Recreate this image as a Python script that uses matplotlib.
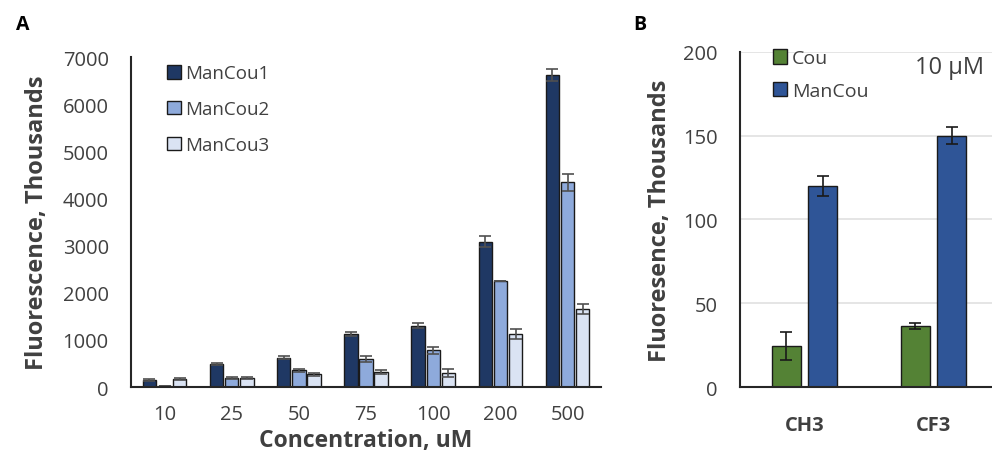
import matplotlib.pyplot as plt
import numpy as np

plt.rcParams['font.family'] = ['Open Sans', 'DejaVu Sans']

# panel A data (thousands)
conc = ['10', '25', '50', '75', '100', '200', '500']
mancou1 = [150, 490, 620, 1130, 1300, 3090, 6630]
mancou2 = [30, 190, 360, 600, 780, 2260, 4350]
mancou3 = [170, 190, 270, 320, 300, 1130, 1660]
err1 = [20, 30, 30, 40, 50, 110, 130]
err2 = [0, 20, 30, 60, 70, 0, 180]
err3 = [20, 20, 30, 40, 80, 110, 110]

# panel B data
groups = ['CH3', 'CF3']
cou = [24.5, 36.5]
mancou = [120, 150]
cou_err = [8.5, 2]
mancou_err = [6, 5]

text_col = '#404040'

fig = plt.figure(figsize=(9.92, 4.56), dpi=100)

# ---- panel A ----
axA = fig.add_axes([0.132, 0.149, 0.474, 0.723])
x = np.arange(len(conc))
w = 0.2
series = [(mancou1, err1, '#1f3864', 'ManCou1'),
          (mancou2, err2, '#8eaadb', 'ManCou2'),
          (mancou3, err3, '#dae3f3', 'ManCou3')]
for i, (vals, err, col, lab) in enumerate(series):
    axA.bar(x + (i - 1) * 0.225, vals, w, color=col, edgecolor='#1a1a1a',
            linewidth=1, label=lab, yerr=err, capsize=4,
            error_kw=dict(ecolor='#505050', elinewidth=1.2, capthick=1.2))
axA.set_xlim(-0.5, len(conc) - 0.5)
axA.set_ylim(0, 7000)
axA.set_yticks(range(0, 7001, 1000))
axA.set_xticks(x)
axA.set_xticklabels(conc)
axA.tick_params(length=0, labelsize=14.5, colors=text_col, pad=16)
axA.tick_params(axis='x', pad=12)
for s in ['top', 'right']:
    axA.spines[s].set_visible(False)
for s in ['left', 'bottom']:
    axA.spines[s].set_color('#262626')
    axA.spines[s].set_linewidth(1.5)
axA.set_ylabel('Fluorescence, Thousands', fontsize=17, fontweight='bold',
               color=text_col, labelpad=10)
axA.set_xlabel('Concentration, uM', fontsize=16.5, fontweight='bold',
               color=text_col, labelpad=3)
axA.legend(loc='upper left', bbox_to_anchor=(0.04, 1.03), frameon=False,
           fontsize=13.5, labelcolor=text_col, handlelength=0.75, handleheight=0.75,
           handletextpad=0.25, labelspacing=0.95)
fig.text(0.016, 0.945, 'A', fontsize=14, fontweight='bold', va='center')

# ---- panel B ----
axB = fig.add_axes([0.746, 0.149, 0.254, 0.735])
xb = np.arange(len(groups))
wb = 0.22
axB.bar(xb - 0.14, cou, wb, color='#548235', edgecolor='#1a1a1a', linewidth=1,
        label='Cou', yerr=cou_err, capsize=4,
        error_kw=dict(ecolor='#1a1a1a', elinewidth=1.2, capthick=1.2))
axB.bar(xb + 0.14, mancou, wb, color='#2f5597', edgecolor='#1a1a1a', linewidth=1,
        label='ManCou', yerr=mancou_err, capsize=4,
        error_kw=dict(ecolor='#1a1a1a', elinewidth=1.2, capthick=1.2))
axB.set_xlim(-0.5, 1.453)
axB.set_ylim(0, 200)
axB.set_yticks(range(0, 201, 50))
axB.set_xticks(xb)
axB.set_xticklabels(groups, fontweight='bold', fontsize=15)
axB.yaxis.grid(True, color='#e0e0e0', linewidth=1.2)
axB.set_axisbelow(True)
axB.tick_params(length=0, labelsize=14.5, colors=text_col, pad=16)
axB.tick_params(axis='x', pad=20)
for s in ['top', 'right']:
    axB.spines[s].set_visible(False)
for s in ['left', 'bottom']:
    axB.spines[s].set_color('#262626')
    axB.spines[s].set_linewidth(1.5)
axB.set_ylabel('Fluoresence, Thousands', fontsize=17, fontweight='bold',
               color=text_col, labelpad=8)
axB.legend(loc='upper left', bbox_to_anchor=(0.06, 1.06), frameon=False,
           fontsize=14, labelcolor=text_col, handlelength=0.75, handleheight=0.75,
           handletextpad=0.25, labelspacing=0.75)
axB.text(0.97, 0.955, '10 µM', transform=axB.transAxes, fontsize=17,
         color=text_col, ha='right', va='center')
fig.text(0.638, 0.945, 'B', fontsize=14, fontweight='bold', va='center')

fig.savefig('out.png', dpi=100)
